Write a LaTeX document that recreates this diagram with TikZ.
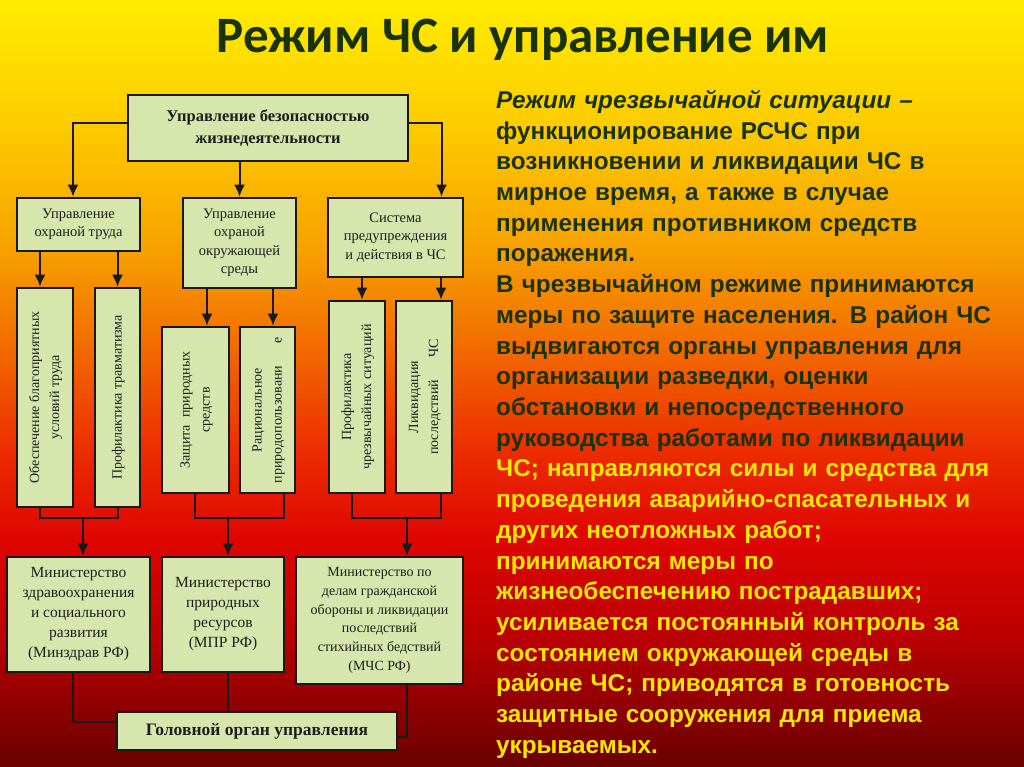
\documentclass[tikz,border=0pt]{standalone}
\usepackage{fontspec}
\usepackage{graphicx}
\setmainfont{Liberation Serif}
\newfontfamily\chssans{Liberation Sans}
\newfontfamily\chshead{Carlito}
\usetikzlibrary{arrows.meta}

\definecolor{boxfill}{RGB}{214,230,172}
\definecolor{boxtext}{RGB}{30,30,30}
\definecolor{headgreen}{RGB}{25,52,0}
\definecolor{textyellow}{RGB}{255,232,0}
\definecolor{bga}{RGB}{255,236,0}
\definecolor{bgb}{RGB}{253,205,0}
\definecolor{bgc}{RGB}{247,160,0}
\definecolor{bgd}{RGB}{242,105,0}
\definecolor{bge}{RGB}{236,45,0}
\definecolor{bgf}{RGB}{222,5,0}
\definecolor{bgg}{RGB}{185,0,0}
\definecolor{bgh}{RGB}{105,0,0}
\pgfdeclareverticalshading{chsbg}{100bp}{color(0bp)=(bgh); color(25bp)=(bgh);
  color(33.3bp)=(bgg); color(39.8bp)=(bgf); color(45.7bp)=(bge); color(52.2bp)=(bgd);
  color(58.7bp)=(bgc); color(67.2bp)=(bgb); color(75bp)=(bga); color(100bp)=(bga)}

\tikzset{
  box/.style={draw=black!90, line width=2.6pt, fill=boxfill, text=boxtext,
    inner sep=0pt, align=center},
  link/.style={line width=2pt, black!90},
}
\newcommand{\vtext}[1]{\rotatebox{90}{\begin{tabular}{@{}c@{}}#1\end{tabular}}}

\begin{document}
\begin{tikzpicture}[x=1pt, y=-1pt, >={Latex[length=12pt,width=11pt]}]
  \useasboundingbox (0,0) rectangle (1024,767);
  \shade[shading=chsbg] (0,0) rectangle (1024,767);

  % title
  \node[anchor=base, font=\chshead\bfseries\fontsize{51}{56}\selectfont, text=headgreen] (title) at (523,53) {Режим ЧС и управление им};

  % scheme
  \node[box, font=\bfseries\fontsize{16.5}{22}\selectfont, minimum width=280, minimum height=66] (bzd) at (268,128) {Управление безопасностью\\жизнедеятельности};

  \node[box, font=\fontsize{14.5}{18.5}\selectfont, minimum width=123, minimum height=53] (trud) at (78.5,224.5) {Управление\\охраной труда};
  \node[box, font=\fontsize{14.5}{18.5}\selectfont, minimum width=113, minimum height=90] (sreda) at (239.5,243) {Управление\\охраной\\окружающей\\среды};
  \node[box, font=\fontsize{14.5}{18.5}\selectfont, minimum width=135, minimum height=79] (sist) at (395.5,237.5) {Система\\предупреждения\\и действия в ЧС};

  \node[box, font=\fontsize{14}{20}\selectfont, minimum width=56, minimum height=219] (obesp) at (45,397.5) {\vtext{Обеспечение благоприятных\\условий труда}};
  \node[box, font=\fontsize{14}{20}\selectfont, minimum width=45, minimum height=219] (travm) at (117.5,397.5) {\vtext{Профилактика травматизма}};
  \node[box, font=\fontsize{14}{20}\selectfont, minimum width=67, minimum height=166] (zashch) at (195.5,410) {\vtext{Защита\ \ природных\\средств}};
  \node[box, font=\fontsize{14}{20}\selectfont, minimum width=55, minimum height=166] (racio) at (267.5,410) {\vtext{Рациональное\\природопользовани\hspace{1.6em}е}};
  \node[box, font=\fontsize{14}{20}\selectfont, minimum width=56, minimum height=192] (profch) at (357,397) {\vtext{Профилактика\\чрезвычайных ситуаций}};
  \node[box, font=\fontsize{14}{20}\selectfont, minimum width=56, minimum height=192] (likv) at (424,397) {\vtext{Ликвидация\\последствий\hspace{1.6em}ЧС}};

  \node[box, font=\fontsize{15.5}{20}\selectfont, minimum width=143, minimum height=115] (minzdrav) at (78.5,614.5) {Министерство\\здравоохранения\\и социального\\развития\\(Минздрав РФ)};
  \node[box, font=\fontsize{15.5}{20}\selectfont, minimum width=122, minimum height=115] (mpr) at (223,614.5) {Министерство\\природных\\ресурсов\\(МПР РФ)};
  \node[box, font=\fontsize{14}{18.7}\selectfont, minimum width=167, minimum height=127] (mchs) at (379.5,620.5) {Министерство по\\делам гражданской\\обороны и ликвидации\\последствий\\стихийных бедствий\\(МЧС РФ)};

  \node[box, font=\bfseries\fontsize{17.5}{20}\selectfont, minimum width=280, minimum height=38] (golov) at (257,731) {Головной орган управления};

  % arrows
  \draw[link, ->] ([yshift=5pt]bzd.west) -| ([xshift=-5.5pt]trud.north);
  \draw[link, ->] (bzd.south -| sreda.north) -- (sreda.north);
  \draw[link, ->] ([yshift=5pt]bzd.east) -| ([xshift=46pt]sist.north);

  \draw[link, ->] ([xshift=-5pt]obesp.north |- trud.south) -- ([xshift=-5pt]obesp.north);
  \draw[link, ->] (travm.north |- trud.south) -- (travm.north);
  \draw[link, ->] ([xshift=11.5pt]zashch.north |- sreda.south) -- ([xshift=11.5pt]zashch.north);
  \draw[link, ->] ([xshift=5.5pt]racio.north |- sreda.south) -- ([xshift=5.5pt]racio.north);
  \draw[link, ->] ([xshift=5pt]profch.north |- sist.south) -- ([xshift=5pt]profch.north);
  \draw[link, ->] ([xshift=17pt]likv.north |- sist.south) -- ([xshift=17pt]likv.north);

  \coordinate (j1) at (83,518);
  \coordinate (j2) at (228,518);
  \coordinate (j3) at (407,518);
  \draw[link] ([xshift=-5pt]obesp.south) |- (j1) -| (travm.south);
  \draw[link] ([xshift=-0.5pt]zashch.south) |- (j2) -| ([xshift=16.5pt]racio.south);
  \draw[link] ([xshift=-5pt]profch.south) |- (j3) -| ([xshift=17pt]likv.south);
  \draw[link, ->] (j1) -- (j1 |- minzdrav.north);
  \draw[link, ->] (j2) -- (j2 |- mpr.north);
  \draw[link, ->] (j3) -- (j3 |- mchs.north);

  \draw[link] ([xshift=-5.5pt]minzdrav.south) |- ([yshift=9pt]golov.west);
  \draw[link] ([xshift=5pt]mpr.south) -- ([xshift=5pt]mpr.south |- golov.north);
  \draw[link] ([xshift=27.5pt]mchs.south) |- ([yshift=-6pt]golov.east);

  % text on the right
  \node[anchor=base west, inner sep=0pt, text width=527, align=left,
    font=\chssans\bfseries\fontsize{24.3}{30.7}\selectfont, text=headgreen] (info) at (496,108.5)
    {\itshape Режим чрезвычайной ситуации –\upshape\\
     функционирование РСЧС при\\
     возникновении и ликвидации ЧС в\\
     мирное время, а также в случае\\
     применения противником средств\\
     поражения.\\
     В чрезвычайном режиме принимаются\\
     меры по защите населения. В район ЧС\\
     выдвигаются органы управления для\\
     организации разведки, оценки\\
     обстановки и непосредственного\\
     руководства работами по ликвидации\\
     \color{textyellow}ЧС; направляются силы и средства для\\
     проведения аварийно-спасательных и\\
     других неотложных работ;\\
     принимаются меры по\\
     жизнеобеспечению пострадавших;\\
     усиливается постоянный контроль за\\
     состоянием окружающей среды в\\
     районе ЧС; приводятся в готовность\\
     защитные сооружения для приема\\
     укрываемых.};
\end{tikzpicture}
\end{document}
